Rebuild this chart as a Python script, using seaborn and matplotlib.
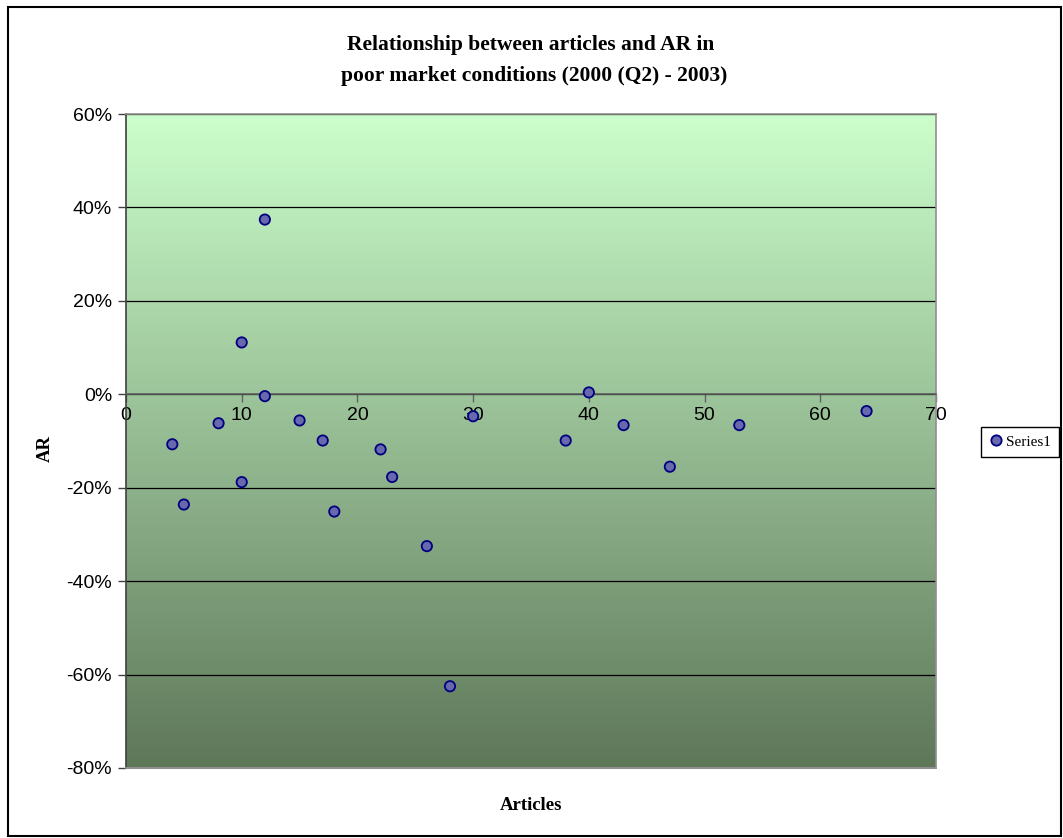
import numpy as np
import pandas as pd
import matplotlib
matplotlib.use("Agg")
import matplotlib.pyplot as plt
from matplotlib.colors import LinearSegmentedColormap
from matplotlib.patches import Rectangle
import seaborn as sns

# ---- data ----
articles = [4, 5, 8, 10, 10, 12, 12, 15, 17, 18, 22, 23, 26, 28, 30, 38, 40, 43, 47, 53, 64]
ar_pct = [-10.7, -23.6, -6.2, 11.1, -18.8, 37.4, -0.4, -5.6, -9.9, -25.1, -11.8, -17.7,
          -32.5, -62.5, -4.7, -9.9, 0.4, -6.6, -15.5, -6.6, -3.6]
x_ticks = [0, 10, 20, 30, 40, 50, 60, 70]
y_ticks = [-80, -60, -40, -20, 0, 20, 40, 60]
title_line1 = "Relationship between articles and AR in"
title_line2 = "poor market conditions (2000 (Q2) - 2003)"
series_name = "Series1"

df = pd.DataFrame({"Articles": articles, "AR": ar_pct, "series": series_name})

sns.set_style("white")
plt.rcParams["font.family"] = ["Liberation Sans", "DejaVu Sans"]
plt.rcParams["text.color"] = "black"
plt.rcParams["xtick.color"] = "black"
plt.rcParams["ytick.color"] = "black"

W, H = 1063, 838
fig = plt.figure(figsize=(W / 100, H / 100), dpi=100)
L, R, T, B = 126, 936, 114, 768
ax = fig.add_axes([L / W, 1 - B / H, (R - L) / W, (B - T) / H])

# gradient background
cmap = LinearSegmentedColormap.from_list("g", ["#5E7759", "#CCFFCC"])
grad = np.linspace(0, 1, 256).reshape(-1, 1)
ax.imshow(grad, extent=[0, 70, -80, 60], origin="lower", aspect="auto", cmap=cmap, zorder=0)

sns.scatterplot(data=df, x="Articles", y="AR", hue="series", palette=["#6868AC"],
                s=55, edgecolor="#000080", linewidth=1.3, ax=ax, zorder=3)

ax.set_xlim(0, 70)
ax.set_ylim(-80, 60)
ax.set_xticks(x_ticks)
ax.set_yticks(y_ticks)
ax.set_yticklabels([f"{v}%" for v in y_ticks])
ax.set_xticklabels([str(v) for v in x_ticks])

ax.yaxis.grid(True, color="black", lw=0.9)
for gl in ax.get_ygridlines():
    gl.set_zorder(1)

ax.spines["bottom"].set_position(("data", 0))
ax.spines["bottom"].set_color("#606060")
ax.spines["bottom"].set_linewidth(1.2)
ax.spines["left"].set_color("#404040")
ax.spines["left"].set_linewidth(1.2)
for s in ["top", "right"]:
    ax.spines[s].set_color("#909090")
    ax.spines[s].set_linewidth(1.2)
ax.add_line(plt.Line2D([0, 70], [-80, -80], color="#909090", lw=1.5, zorder=4, clip_on=False))

ax.tick_params(axis="y", direction="out", length=6, width=1, color="#404040",
               labelsize=14, labelcolor="black", pad=4, left=True)
ax.tick_params(axis="x", direction="out", length=6, width=1, color="#606060",
               labelsize=14, labelcolor="black", pad=3, bottom=True)

ax.set_xlabel("")
ax.set_ylabel("")
fig.text(531 / W, 1 - 805 / H, "Articles", ha="center", va="center",
         family="Liberation Serif", fontweight="bold", fontsize=13.5)
fig.text(45 / W, 1 - 448 / H, "AR", ha="center", va="center", rotation=90,
         family="Liberation Serif", fontweight="bold", fontsize=13.5)
fig.text(531 / W, 1 - 45 / H, title_line1, ha="center", va="center",
         family="Liberation Serif", fontweight="bold", fontsize=15.5)
fig.text(534 / W, 1 - 76 / H, title_line2, ha="center", va="center",
         family="Liberation Serif", fontweight="bold", fontsize=15.5)

# legend
handles, labels = ax.get_legend_handles_labels()
if ax.legend_:
    ax.legend_.remove()
for h in handles:
    try:
        h.set_sizes([38])
    except Exception:
        pass
leg = fig.legend(handles, labels, loc="center left", bbox_to_anchor=(981 / W, 1 - 442 / H),
                 frameon=True, fancybox=False, edgecolor="black", framealpha=1,
                 prop={"family": "Liberation Serif", "size": 11}, handletextpad=0.2,
                 handlelength=0.9, borderpad=0.55, borderaxespad=0)
leg.get_frame().set_linewidth(1.0)

# outer frame
fig.patches.append(Rectangle((8 / W, 2 / H), (W - 10) / W, (H - 9) / H,
                             transform=fig.transFigure, fill=False,
                             edgecolor="black", lw=1.5))

fig.savefig("out.png", dpi=100)
